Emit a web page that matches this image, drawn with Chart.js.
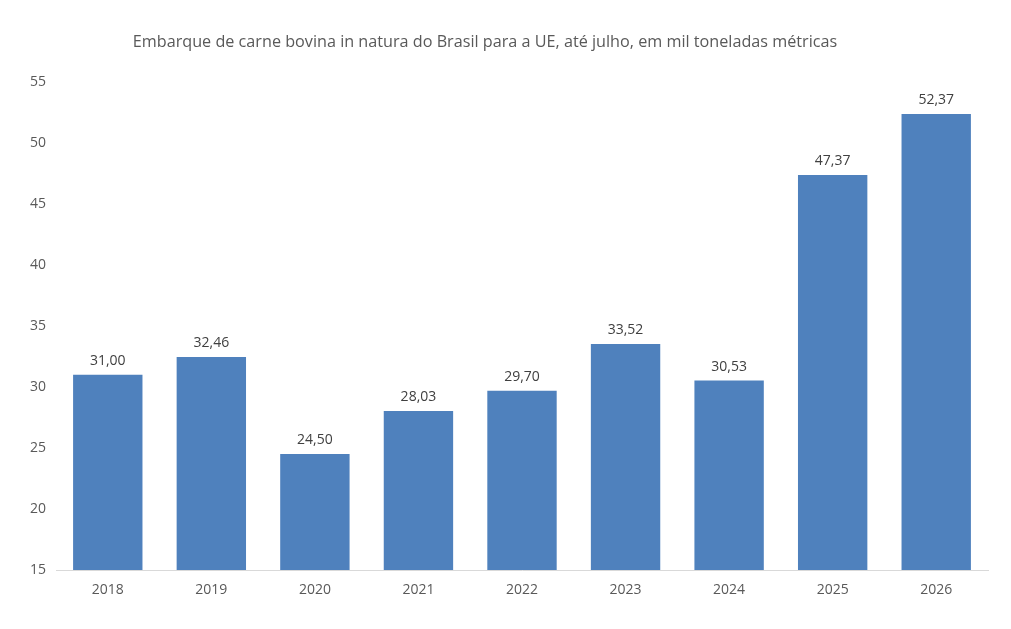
<!DOCTYPE html>
<html>
<head>
<meta charset="utf-8">
<script src="https://cdn.jsdelivr.net/npm/chart.js@4"></script>
<style>
  html, body { margin: 0; padding: 0; background: #fff; }
  #wrap { width: 1011px; height: 629px; }
</style>
</head>
<body>
<div id="wrap"><canvas id="chart"></canvas></div>
<script>
const years = ["2018", "2019", "2020", "2021", "2022", "2023", "2024", "2025", "2026"];
const shipments = [31.00, 32.46, 24.50, 28.03, 29.70, 33.52, 30.53, 47.37, 52.37];
const yMin = 15;
const yMax = 55;
const yStep = 5;
const chartTitle = "Embarque de carne bovina in natura do Brasil para a UE, até julho, em mil toneladas métricas";

const FONT = "'Open Sans', sans-serif";

function fmt(v) {
    return v.toFixed(2).replace(".", ",");
}

// draws the value above each bar, Excel style
const barLabels = {
    id: "barLabels",
    afterDatasetsDraw(chart) {
        const ctx = chart.ctx;
        const meta = chart.getDatasetMeta(0);
        ctx.save();
        ctx.font = "14px " + FONT;
        ctx.fillStyle = "#404040";
        ctx.textAlign = "center";
        ctx.textBaseline = "bottom";
        meta.data.forEach((bar, i) => {
            ctx.fillText(fmt(shipments[i]), bar.x, bar.y - 7);
        });
        ctx.restore();
    }
};

// title, slightly left of centre like the original
const titleText = {
    id: "titleText",
    afterDraw(chart) {
        const ctx = chart.ctx;
        ctx.save();
        ctx.font = "16.2px " + FONT;
        ctx.fillStyle = "#595959";
        ctx.textAlign = "center";
        ctx.textBaseline = "middle";
        ctx.fillText(chartTitle, 485, 42);
        ctx.restore();
    }
};

new Chart(document.getElementById("chart"), {
    type: "bar",
    data: {
        labels: years,
        datasets: [{
            data: shipments,
            backgroundColor: "#4f81bd",
            borderWidth: 0,
            categoryPercentage: 1,
            barPercentage: 0.67
        }]
    },
    options: {
        responsive: true,
        maintainAspectRatio: false,
        animation: false,
        layout: { padding: { top: 82, right: 23, bottom: 0, left: 0 } },
        plugins: {
            legend: { display: false },
            tooltip: { enabled: false }
        },
        scales: {
            x: {
                grid: { display: false, drawTicks: false },
                border: { display: true, color: "#d9d9d9", width: 1 },
                ticks: { color: "#595959", font: { family: FONT, size: 14 }, padding: 12 },
                afterFit(scale) { scale.height = 59; }
            },
            y: {
                min: yMin,
                max: yMax,
                grid: { display: false, drawTicks: false },
                border: { display: false },
                ticks: {
                    stepSize: yStep,
                    color: "#595959",
                    font: { family: FONT, size: 14 },
                    padding: 10
                },
                afterFit(scale) { scale.width = 56; }
            }
        }
    },
    plugins: [barLabels, titleText]
});
</script>
</body>
</html>
